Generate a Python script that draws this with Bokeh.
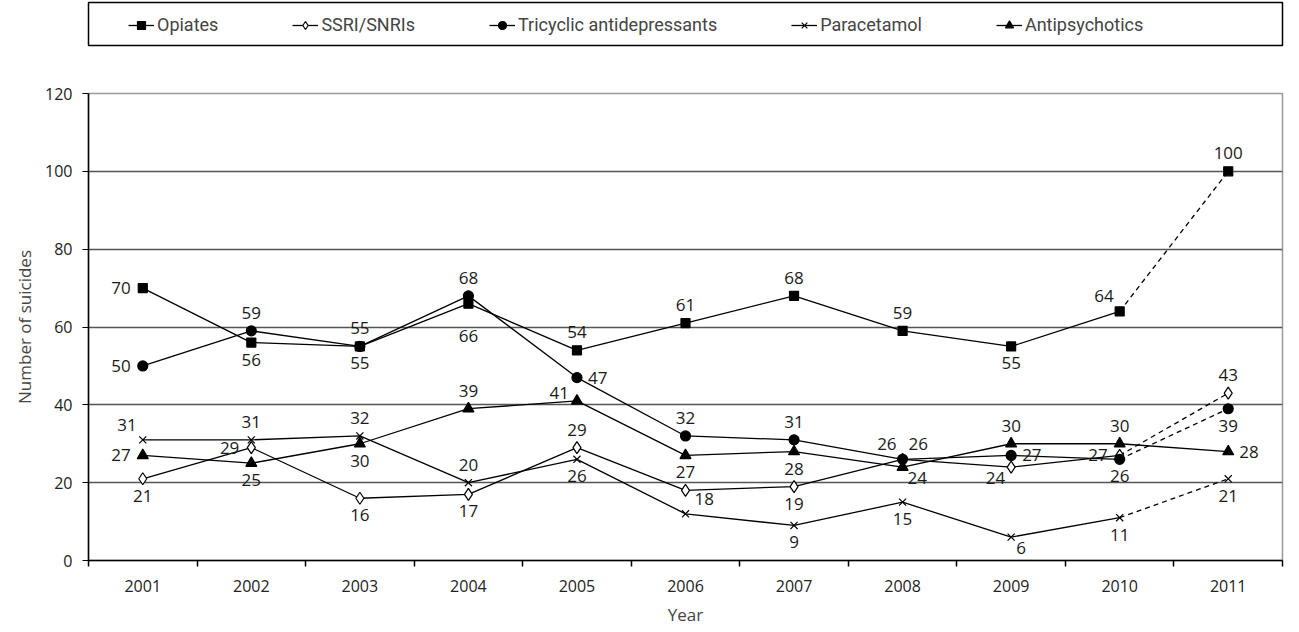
from bokeh.plotting import figure
from bokeh.layouts import column
from bokeh.models import (Legend, LegendItem, FixedTicker, Range1d)
from bokeh.core.properties import value
from bokeh.embed import file_html
from bokeh.resources import INLINE

years = [2001, 2002, 2003, 2004, 2005, 2006, 2007, 2008, 2009, 2010, 2011]
series_names = ["Opiates", "SSRI/SNRIs", "Tricyclic antidepressants", "Paracetamol", "Antipsychotics"]
opiates = [70, 56, 55, 66, 54, 61, 68, 59, 55, 64, 100]
ssri = [21, 29, 16, 17, 29, 18, 19, 26, 24, 27, 43]
tricyclic = [50, 59, 55, 68, 47, 32, 31, 26, 27, 26, 39]
paracetamol = [31, 31, 32, 20, 26, 12, 9, 15, 6, 11, 21]
antipsychotics = [27, 25, 30, 39, 41, 27, 28, 24, 30, 30, 28]
y_ticks = [0, 20, 40, 60, 80, 100, 120]

# style: last segment dashed?
dashed_last = [True, True, True, True, False]
markers = ["square", "diamond", "circle", "x", "triangle"]
marker_sizes = [9, 12, 10, 10, 11]
marker_fill = ["black", "white", "black", "black", "black"]
# label placements (a=above, b=below, l=left, r=right, combos, n=none)
label_pos = [
    ["l", "b", "b", "b3", "a", "a", "a", "a", "b", "al", "a"],
    ["b", "l", "b", "b", "a", "r18", "b", "al", "bl", "l", "a"],
    ["l", "a", "a", "a", "r", "a", "a", "ar", "r", "b", "b"],
    ["al", "a", "a", "a", "b", "n", "b", "b", "br", "b", "b"],
    ["l", "b", "b", "a", "al2", "b", "b", "br", "a", "a", "r"],
]
all_series = [opiates, ssri, tricyclic, paracetamol, antipsychotics]

FONT_NUM = "Open Sans"
FONT_LEG = "Roboto"

xs = list(range(1, len(years) + 1))

p = figure(width=1290, height=580, output_backend="svg", toolbar_location=None,
           x_range=Range1d(0.5, len(years) + 0.5), y_range=Range1d(0, 120),
           min_border_left=88, min_border_right=8, min_border_top=45, min_border_bottom=67)
p.outline_line_color = "#9a9a9a"
p.outline_line_width = 1.5

p.xgrid.grid_line_color = None
p.ygrid.grid_line_color = "#555555"
p.ygrid.grid_line_width = 1.5
p.yaxis.ticker = FixedTicker(ticks=y_ticks)
p.yaxis.minor_tick_line_color = None
p.yaxis.major_tick_out = 6
p.yaxis.major_tick_in = 0
p.yaxis.axis_line_color = "black"
p.yaxis.axis_line_width = 1.5
p.yaxis.major_label_text_font = FONT_NUM
p.yaxis.major_label_text_font_size = "16px"
p.yaxis.major_label_text_color = "#222222"
p.yaxis.major_label_standoff = 10
p.yaxis.axis_label = "Number of suicides"
p.yaxis.axis_label_text_font = FONT_NUM
p.yaxis.axis_label_text_font_style = "normal"
p.yaxis.axis_label_text_font_size = "17px"
p.yaxis.axis_label_standoff = 6

p.xaxis.ticker = FixedTicker(ticks=xs, minor_ticks=[x - 0.5 for x in xs] + [len(xs) + 0.5])
p.xaxis.major_label_overrides = {x: str(y) for x, y in zip(xs, years)}
p.xaxis.major_tick_out = 0
p.xaxis.major_tick_in = 0
p.xaxis.minor_tick_out = 6
p.xaxis.minor_tick_in = 0
p.xaxis.minor_tick_line_color = "black"
p.xaxis.minor_tick_line_width = 1.5
p.xaxis.axis_line_color = "black"
p.xaxis.axis_line_width = 1.5
p.xaxis.major_label_text_font = FONT_NUM
p.xaxis.major_label_text_font_size = "16px"
p.xaxis.major_label_text_color = "#222222"
p.xaxis.major_label_standoff = 13
p.xaxis.axis_label = "Year"
p.xaxis.axis_label_text_font = FONT_NUM
p.xaxis.axis_label_text_font_style = "normal"
p.xaxis.axis_label_text_font_size = "17px"
p.xaxis.axis_label_standoff = 8

offsets = {
    "a": (0, -12, "center", "bottom"),
    "b": (0, 11, "center", "top"),
    "b3": (0, 26, "center", "top"),
    "l": (-12, 0, "right", "middle"),
    "r": (11, 0, "left", "middle"),
    "al": (-6, -9, "right", "bottom"),
    "al2": (-8, -2, "right", "bottom"),
    "ar": (6, -9, "left", "bottom"),
    "bl": (-6, 5, "right", "top"),
    "br": (5, 5, "left", "top"),
    "r18": (9, 9, "left", "middle"),
}

# legend figure (its proxies use the same data, drawn outside the visible range)
lg = figure(width=1290, height=48, output_backend="svg", toolbar_location=None,
            x_range=Range1d(-2, -1), y_range=Range1d(-2, -1),
            x_axis_location=None, y_axis_location=None,
            min_border_left=88, min_border_right=8, min_border_top=2, min_border_bottom=3)
lg.outline_line_color = "black"
lg.outline_line_width = 1.5
lg.grid.visible = False

legend_items = []
for i, (name, vals) in enumerate(zip(series_names, all_series)):
    n = len(vals)
    solid_end = n - 1 if dashed_last[i] else n
    p.line(xs[:solid_end], vals[:solid_end], line_color="black", line_width=1.3)
    if dashed_last[i]:
        p.line(xs[n - 2:], vals[n - 2:], line_color="black", line_width=1.3, line_dash="5 4")
    p.scatter(xs, vals, marker=markers[i], size=marker_sizes[i],
              fill_color=marker_fill[i], line_color="black", line_width=1.2)
    for x, v, pos in zip(xs, vals, label_pos[i]):
        if pos == "n":
            continue
        dx, dy, ha, va = offsets[pos]
        p.text(x=[x], y=[v], text=[str(v)], x_offset=dx, y_offset=dy,
               text_align=ha, text_baseline=va, text_font=value(FONT_NUM),
               text_font_size="17px", text_color="#1a1a1a")
    llr = lg.line(xs, vals, line_color="black", line_width=1.3)
    lmr = lg.scatter(xs, vals, marker=markers[i], size=marker_sizes[i] - 1,
                     fill_color=marker_fill[i], line_color="black", line_width=1.2)
    legend_items.append(LegendItem(label=name, renderers=[llr, lmr]))

legend = Legend(items=legend_items, orientation="horizontal", location=(40, 10),
                spacing=74, padding=0, margin=0, glyph_width=26, label_standoff=3,
                label_text_font=FONT_LEG, label_text_font_size="18px",
                border_line_color=None, background_fill_alpha=0)
lg.add_layout(legend)

layout = column(lg, p, spacing=0)
open("out.html", "w").write(file_html(layout, INLINE))
